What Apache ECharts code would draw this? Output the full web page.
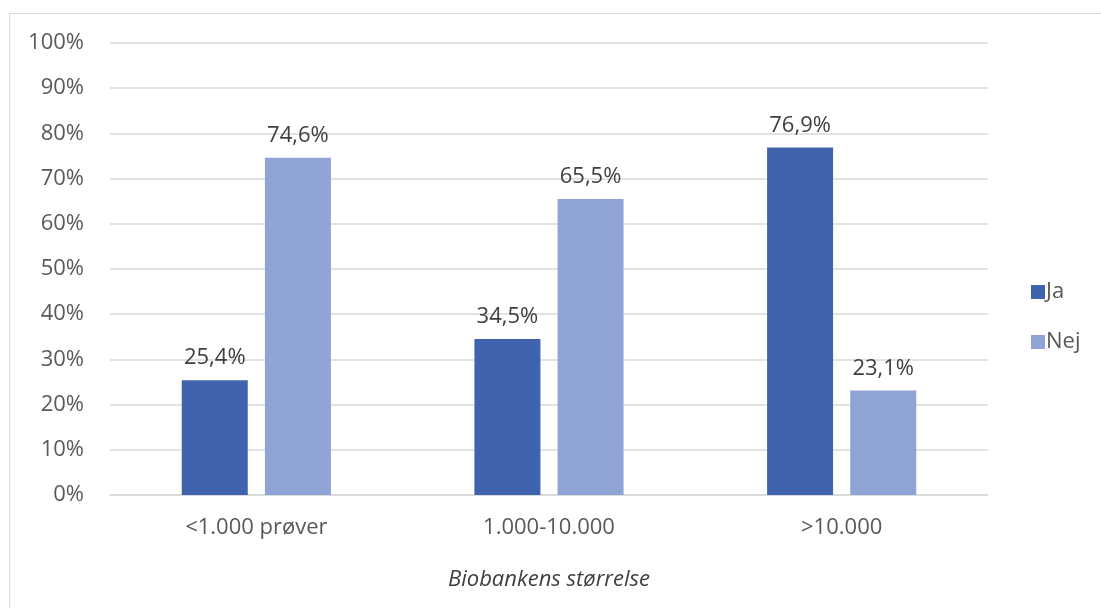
<!DOCTYPE html>
<html><head><meta charset="utf-8">
<script src="https://cdn.jsdelivr.net/npm/echarts@6/dist/echarts.min.js"></script>
<style>
html,body{margin:0;padding:0;background:#fff;overflow:hidden}
#frame{position:absolute;left:9px;top:13px;width:1200px;height:700px;border:1px solid #d9d9d9;box-sizing:border-box}
#c{position:absolute;left:0;top:0;width:1101px;height:608px}
</style></head>
<body><div id="frame"></div><div id="c"></div>
<script>
const categories = ['<1.000 prøver', '1.000-10.000', '>10.000'];
const seriesNames = ['Ja', 'Nej'];
const jaValues = [25.4, 34.5, 76.9];
const nejValues = [74.6, 65.5, 23.1];
const axisTitle = 'Biobankens størrelse';

const font = '"Open Sans", "Noto Sans", sans-serif';
const chart = echarts.init(document.getElementById('c'), null, {renderer: 'canvas'});
const lbl = {show: true, position: 'top', distance: 11, color: '#404040', fontSize: 22, fontFamily: font,
  formatter: p => p.value.toFixed(1).replace('.', ',') + '%'};
chart.setOption({
  animation: false,
  textStyle: {fontFamily: font},
  grid: {left: 110, right: 113, top: 43, bottom: 113, containLabel: false},
  legend: {
    orient: 'vertical', left: 1026, top: 276, itemGap: 28, itemWidth: 14, itemHeight: 14,
    icon: 'rect', data: seriesNames,
    textStyle: {color: '#595959', fontSize: 22, fontFamily: font, padding: [0, 0, 0, -4]}
  },
  xAxis: {
    type: 'category', data: categories,
    name: axisTitle, nameLocation: 'middle', nameGap: 74,
    nameTextStyle: {fontStyle: 'italic', color: '#404040', fontSize: 22, fontFamily: font},
    axisLine: {lineStyle: {color: '#d9d9d9', width: 1.5}},
    axisTick: {show: false},
    axisLabel: {color: '#595959', fontSize: 22, margin: 22, fontFamily: font}
  },
  yAxis: {
    type: 'value', min: 0, max: 100, interval: 10,
    axisLabel: {formatter: '{value}%', color: '#595959', fontSize: 22, margin: 26, fontFamily: font},
    splitLine: {lineStyle: {color: '#d9d9d9', width: 1.5}},
    axisLine: {show: false}, axisTick: {show: false}
  },
  series: [
    {name: 'Ja', type: 'bar', data: jaValues, barWidth: 66, barGap: '26%',
     itemStyle: {color: '#3F64AD'}, label: lbl},
    {name: 'Nej', type: 'bar', data: nejValues, barWidth: 66,
     itemStyle: {color: '#8FA3D5'}, label: lbl}
  ]
});
</script></body></html>
